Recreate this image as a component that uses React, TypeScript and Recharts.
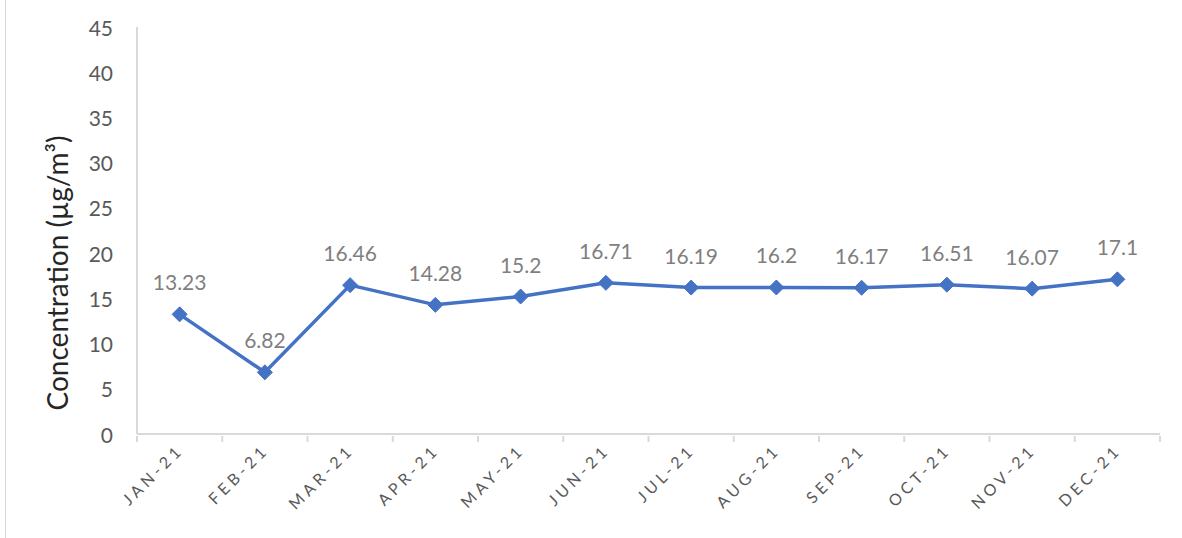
import React from 'react';
import { LineChart, Line, XAxis, YAxis, LabelList } from 'recharts';

const months = ['JAN-21', 'FEB-21', 'MAR-21', 'APR-21', 'MAY-21', 'JUN-21', 'JUL-21', 'AUG-21', 'SEP-21', 'OCT-21', 'NOV-21', 'DEC-21'];
const concentration = [13.23, 6.82, 16.46, 14.28, 15.2, 16.71, 16.19, 16.2, 16.17, 16.51, 16.07, 17.1];
const yTicks = [0, 5, 10, 15, 20, 25, 30, 35, 40, 45];

const data = months.map((month, i) => ({ month, value: concentration[i] }));

const W = 1182;
const H = 538;
const PLOT_LEFT = 137;
const PLOT_RIGHT = 1160;
const PLOT_TOP = 27;
const PLOT_BOTTOM = 434;
const STEP = (PLOT_RIGHT - PLOT_LEFT) / months.length;
const FONT = 'Lato, "Open Sans", sans-serif';
const BLUE = '#4472C4';
const AXIS = '#d9d9d9';

const Diamond = (props: any) => {
  const { cx, cy } = props;
  if (cx == null || cy == null) return null;
  const r = 7.5;
  return (
    <polygon
      points={`${cx},${cy - r} ${cx + r},${cy} ${cx},${cy + r} ${cx - r},${cy}`}
      fill={BLUE}
      stroke={BLUE}
      strokeWidth={1}
    />
  );
};

const MonthTick = (props: any) => {
  const { x, y, payload, index } = props;
  const tx = x + 5;
  const ty = y + 15;
  return (
    <g>
      <line x1={x - STEP / 2} x2={x - STEP / 2} y1={y} y2={y + 6} stroke={AXIS} strokeWidth={2} />
      {index === months.length - 1 && (
        <line x1={x + STEP / 2} x2={x + STEP / 2} y1={y} y2={y + 6} stroke={AXIS} strokeWidth={2} />
      )}
      <text
        x={tx}
        y={ty}
        textAnchor="end"
        transform={`rotate(-45 ${tx} ${ty})`}
        fill="#595959"
        fontSize={16}
        letterSpacing={4}
        fontFamily={FONT}
      >
        {payload.value}
      </text>
    </g>
  );
};

const ValueTick = (props: any) => {
  const { x, y, payload } = props;
  return (
    <text x={x} y={y} textAnchor="end" dominantBaseline="central" fill="#595959" fontSize={21} fontFamily={FONT}>
      {payload.value}
    </text>
  );
};

const YTitle = () => (
  <text
    x={57}
    y={273}
    transform="rotate(-90 57 273)"
    textAnchor="middle"
    dominantBaseline="central"
    fill="#262626"
    fontSize={28}
    fontFamily={FONT}
  >
    Concentration (µg/m³)
  </text>
);

export default function App() {
  return (
    <div style={{ position: 'absolute', left: 0, top: 0, width: W, height: H, background: '#fff' }}>
      <div style={{ position: 'absolute', left: 5, top: 0, width: 1, height: H, background: AXIS }} />
      <LineChart
        width={W}
        height={H}
        data={data}
        margin={{ top: PLOT_TOP, right: W - PLOT_RIGHT, bottom: 0, left: 0 }}
      >
        <XAxis
          dataKey="month"
          interval={0}
          padding={{ left: STEP / 2, right: STEP / 2 }}
          tickLine={false}
          tickSize={0}
          axisLine={{ stroke: AXIS, strokeWidth: 2 }}
          height={H - PLOT_BOTTOM}
          tick={<MonthTick />}
        />
        <YAxis
          domain={[0, 45]}
          ticks={yTicks}
          interval={0}
          width={PLOT_LEFT}
          tickLine={false}
          tickSize={0}
          tickMargin={24}
          axisLine={{ stroke: AXIS, strokeWidth: 2 }}
          tick={<ValueTick />}
          label={{ content: () => <YTitle /> }}
        />
        <Line
          type="linear"
          dataKey="value"
          stroke={BLUE}
          strokeWidth={3.5}
          dot={<Diamond />}
          activeDot={false}
          isAnimationActive={false}
        >
          <LabelList dataKey="value" position="top" offset={24} fill="#7f7f7f" fontSize={21} fontFamily={FONT} />
        </Line>
      </LineChart>
    </div>
  );
}
